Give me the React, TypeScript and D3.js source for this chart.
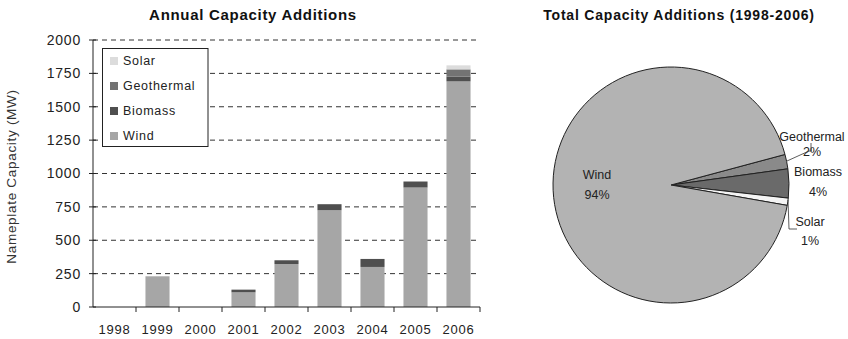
import React from "react";
import * as d3 from "d3";

// Annual additions by year (MW), stacked bottom to top: wind, biomass, geothermal, solar
const years = ["1998", "1999", "2000", "2001", "2002", "2003", "2004", "2005", "2006"];
const wind = [0, 230, 0, 110, 322, 725, 300, 895, 1690];
const biomass = [0, 0, 0, 20, 28, 45, 60, 45, 35];
const geothermal = [0, 0, 0, 0, 0, 0, 0, 0, 55];
const solar = [0, 0, 0, 0, 0, 0, 0, 0, 30];
const yTicks = [0, 250, 500, 750, 1000, 1250, 1500, 1750, 2000];

// Share of total additions 1998-2006 (%)
const pieNames = ["Geothermal", "Biomass", "Solar", "Wind"];
const pieShares = [2, 4, 1, 94];

const seriesNames = ["Wind", "Biomass", "Geothermal", "Solar"];
const seriesData = [wind, biomass, geothermal, solar];
const barColors: Record<string, string> = {
  Wind: "#a6a6a6",
  Biomass: "#4f4f4f",
  Geothermal: "#737373",
  Solar: "#dcdcdc",
};
const pieColors: Record<string, string> = {
  Wind: "#b3b3b3",
  Biomass: "#6a6a6a",
  Geothermal: "#8a8a8a",
  Solar: "#f4f4f4",
};

const FONT = "'Liberation Sans', Arial, sans-serif";

export default function App() {
  // ---- bar chart ----
  const x0 = 93, x1 = 480, yTop = 40, yBottom = 307;
  const x = d3.scaleBand<string>().domain(years).range([x0, x1]);
  const y = d3.scaleLinear().domain([0, 2000]).range([yBottom, yTop]);
  const barW = x.bandwidth() * 0.56;

  const table = years.map((yr, i) => {
    const row: Record<string, any> = { year: yr };
    seriesNames.forEach((s, k) => (row[s] = seriesData[k][i]));
    return row;
  });
  const stack = d3.stack<Record<string, any>>().keys(seriesNames)(table);

  // ---- pie chart ----
  const cx = 671, cy = 185, r = 118;
  const pie = d3
    .pie<number>()
    .sort(null)
    .startAngle((75 * Math.PI) / 180)
    .endAngle((75 * Math.PI) / 180 + 2 * Math.PI);
  const arcs = pie(pieShares);
  const arcGen = d3.arc<d3.PieArcDatum<number>>().innerRadius(0).outerRadius(r);

  const legendItems = ["Solar", "Geothermal", "Biomass", "Wind"];

  return (
    <svg
      width={848}
      height={339}
      style={{ position: "absolute", left: 0, top: 0, background: "#fff" }}
      fontFamily={FONT}
    >
      {/* titles */}
      <text x={253} y={20} textAnchor="middle" fontSize={15} fontWeight="bold" letterSpacing={0.7} fill="#111">
        Annual Capacity Additions
      </text>
      <text x={679} y={20} textAnchor="middle" fontSize={14} fontWeight="bold" letterSpacing={0.8} fill="#111">
        Total Capacity Additions (1998-2006)
      </text>

      {/* gridlines */}
      {yTicks.filter((t) => t > 0).map((t) => (
        <line
          key={"g" + t}
          x1={x0}
          x2={x1 - 4}
          y1={y(t)}
          y2={y(t)}
          stroke="#333"
          strokeWidth={1}
          strokeDasharray="5,4"
        />
      ))}

      {/* stacked bars */}
      {stack.map((layer) => (
        <g key={layer.key} fill={barColors[layer.key]}>
          {layer.map((d, i) =>
            d[1] - d[0] > 0 ? (
              <rect
                key={i}
                x={(x(years[i]) as number) + (x.bandwidth() - barW) / 2}
                y={y(d[1])}
                width={barW}
                height={y(d[0]) - y(d[1])}
              />
            ) : null
          )}
        </g>
      ))}

      {/* axes */}
      <line x1={x0} x2={x0} y1={yTop} y2={yBottom} stroke="#222" />
      <line x1={x0} x2={x1} y1={yBottom} y2={yBottom} stroke="#222" />
      {yTicks.map((t) => (
        <g key={"yt" + t}>
          <line x1={x0 - 4} x2={x0 + 3} y1={y(t)} y2={y(t)} stroke="#222" />
          <text
            x={81}
            y={y(t)}
            dy="0.35em"
            textAnchor="end"
            fontSize={14}
            letterSpacing={0.8}
            fill="#222"
          >
            {t}
          </text>
        </g>
      ))}
      {years.map((yr) => (
        <line
          key={"xt" + yr}
          x1={(x(yr) as number) + x.bandwidth()}
          x2={(x(yr) as number) + x.bandwidth()}
          y1={yBottom}
          y2={yBottom + 5}
          stroke="#222"
        />
      ))}
      {years.map((yr) => (
        <text
          key={"xl" + yr}
          x={(x(yr) as number) + x.bandwidth() / 2}
          y={334}
          textAnchor="middle"
          fontSize={13}
          letterSpacing={0.8}
          fill="#222"
        >
          {yr}
        </text>
      ))}
      <text
        transform={`translate(16,${(yTop + yBottom) / 2 + 3}) rotate(-90)`}
        textAnchor="middle"
        fontSize={13.5}
        letterSpacing={0.7}
        fill="#333"
      >
        Nameplate Capacity (MW)
      </text>

      {/* legend */}
      <rect x={102.5} y={48.5} width={105.5} height={98} fill="#fff" stroke="#222" />
      {legendItems.map((name, i) => (
        <g key={"lg" + name} transform={`translate(110,${61 + i * 25})`}>
          <rect x={0} y={-4} width={8} height={8} fill={barColors[name]} />
          <text x={13} y={0} dy="0.35em" fontSize={12.5} letterSpacing={0.7} fill="#222">
            {name}
          </text>
        </g>
      ))}

      {/* pie */}
      <g transform={`translate(${cx},${cy})`}>
        {arcs.map((a, i) => (
          <path
            key={"p" + i}
            d={arcGen(a) as string}
            fill={pieColors[pieNames[i]]}
            stroke="#222"
            strokeWidth={1}
          />
        ))}
      </g>

      {/* pie labels */}
      <g fontSize={12.5} fill="#222" textAnchor="middle">
        <text x={597} y={179}>{pieNames[3]}</text>
        <text x={597} y={199}>{pieShares[3]}%</text>
        <text x={812} y={141}>{pieNames[0]}</text>
        <text x={812} y={156}>{pieShares[0]}%</text>
        <text x={818} y={176}>{pieNames[1]}</text>
        <text x={818} y={196}>{pieShares[1]}%</text>
        <text x={810} y={226}>{pieNames[2]}</text>
        <text x={810} y={245}>{pieShares[2]}%</text>
      </g>
      {/* leader lines */}
      <polyline points="787,161 809,151 811,151 811,143" fill="none" stroke="#333" strokeWidth={0.8} />
      <polyline points="788,200 789,229 797,229" fill="none" stroke="#333" strokeWidth={0.8} />
    </svg>
  );
}
